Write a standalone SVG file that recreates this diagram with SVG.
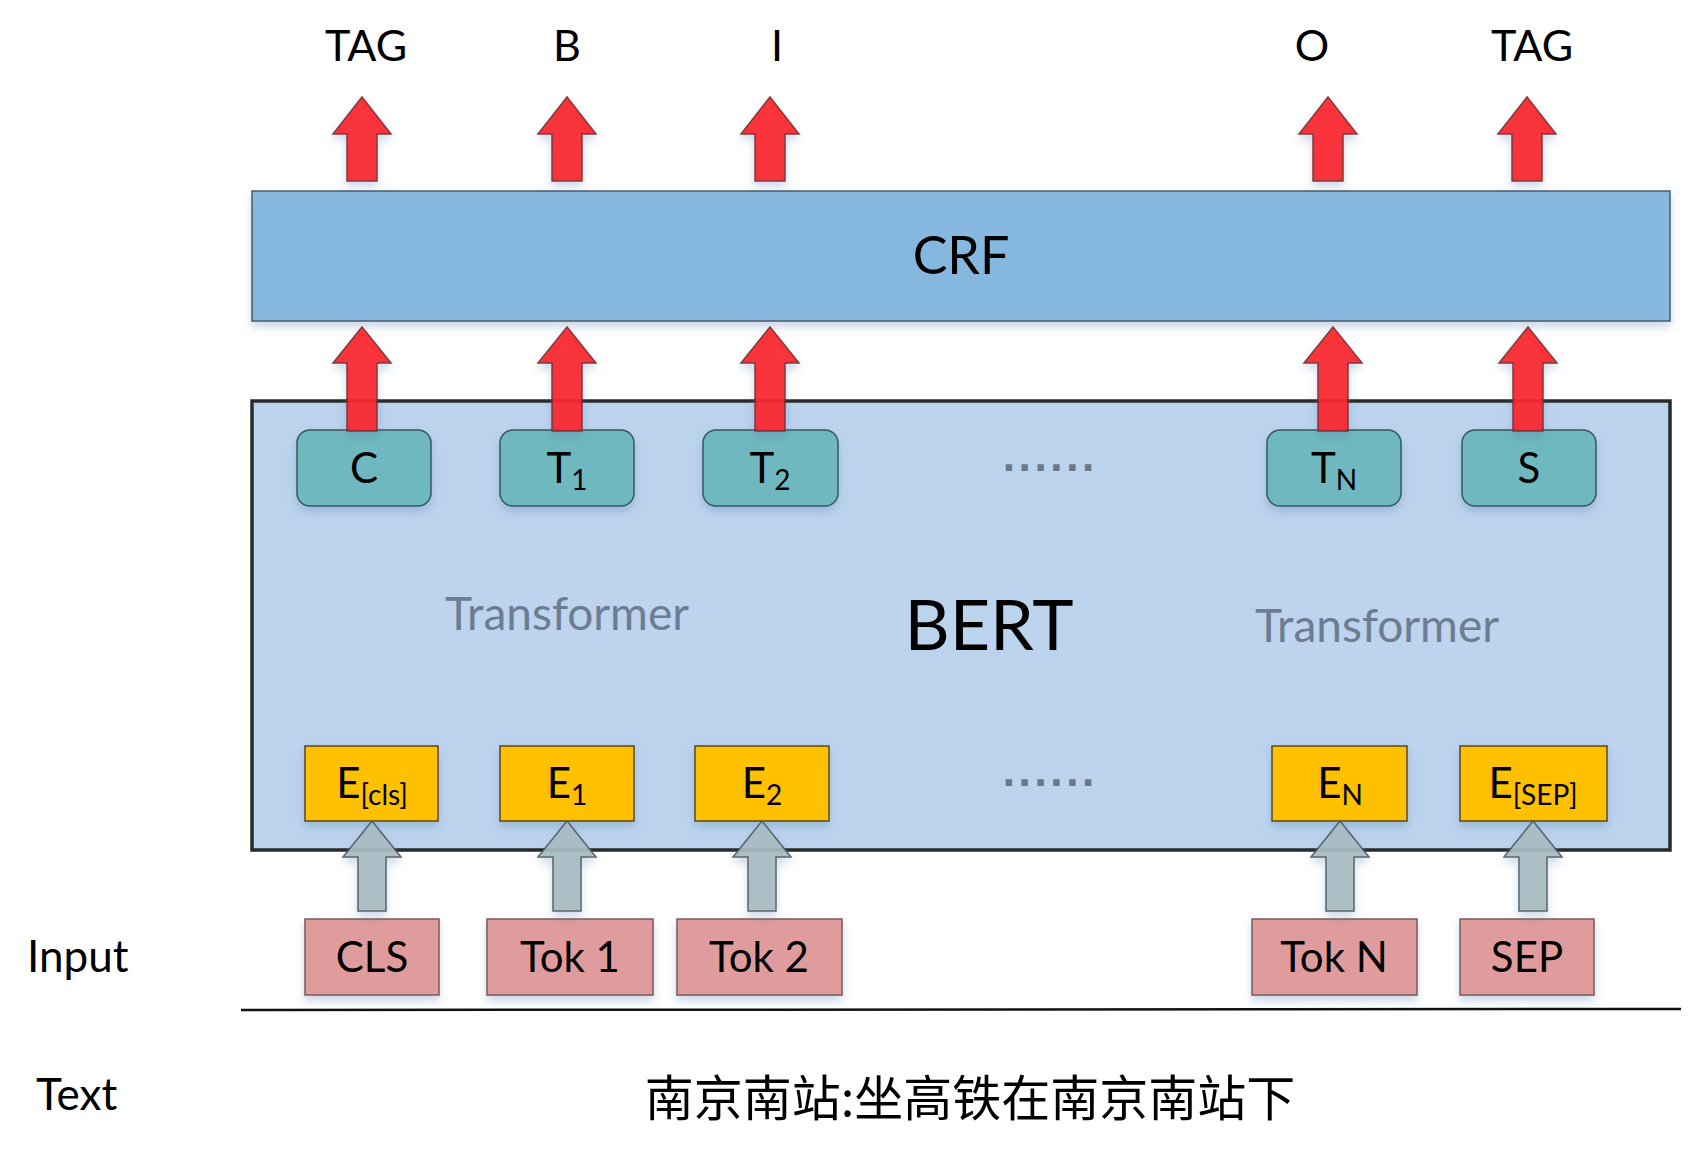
<svg xmlns="http://www.w3.org/2000/svg" width="1689" height="1155" viewBox="0 0 1689 1155">
<style>
text{font-family:Lato,"Open Sans","Noto Sans CJK SC",sans-serif;fill:#000;text-anchor:middle}
.lbl{font-size:43px}
.box{font-size:42px}
.sub{font-size:28px}
.teal{fill:#70b8bf;stroke:#34595c;stroke-width:1.5}
.yel{fill:#ffc000;stroke:#5a4812;stroke-width:1.5}
.pink{fill:#e09c9c;stroke:#7a5a5a;stroke-width:1.5}
.red{fill:#fb2226;stroke:#7a2a2a;stroke-width:1.5;opacity:0.92}
.gray{fill:#a9bcc3;stroke:#4d5c62;stroke-width:1.5;opacity:0.92}
.trf{font-size:46px;fill:#6b7d92}
.dots{font-family:"DejaVu Sans",sans-serif;font-size:36px;font-weight:bold;fill:#6a7888;text-anchor:start}
</style>
<defs>
<filter id="sh" x="-20%" y="-20%" width="140%" height="150%">
<feDropShadow dx="0" dy="5" stdDeviation="4" flood-color="#4f78ad" flood-opacity="0.3"/>
</filter>
</defs>
<rect width="1689" height="1155" fill="#fff"/>

<g id="tags">
<text class="lbl" x="366" y="61">TAG</text>
<text class="lbl" x="567" y="61">B</text>
<text class="lbl" x="777" y="61">I</text>
<text class="lbl" x="1312" y="61">O</text>
<text class="lbl" x="1532" y="61">TAG</text>
</g>

<g id="crf">
<rect x="252" y="191" width="1418" height="130" fill="#86b8df" stroke="#4b5a68" stroke-width="1.5" filter="url(#sh)"/>
<text x="961" y="274" font-size="52">CRF</text>
</g>

<g id="bert">
<rect x="252" y="401" width="1418" height="449" fill="#bcd3ee" stroke="#2a2a2a" stroke-width="3.5"/>
<rect x="305" y="570" width="525" height="103" fill="#c3d8f1" opacity="0.2"/>
<rect x="1144" y="585" width="460" height="105" fill="#c3d8f1" opacity="0.2"/>
<text x="989" y="650" font-size="70">BERT</text>
</g>
<g id="transformer-left"><text class="trf" x="567" y="630">Transformer</text></g>
<g id="transformer-right"><text class="trf" x="1377" y="642">Transformer</text></g>
<g id="dots-top"><text class="dots" x="1002" y="471" textLength="93" lengthAdjust="spacing">......</text></g>
<g id="dots-bottom"><text class="dots" x="1002" y="786" textLength="93" lengthAdjust="spacing">......</text></g>

<g id="out-C"><rect class="teal" x="297" y="430" width="134" height="76" rx="13" filter="url(#sh)"/><text class="box" x="364" y="483">C</text></g>
<g id="out-T1"><rect class="teal" x="500" y="430" width="134" height="76" rx="13" filter="url(#sh)"/><text class="box" x="567" y="483">T<tspan class="sub" dy="7">1</tspan></text></g>
<g id="out-T2"><rect class="teal" x="703" y="430" width="135" height="76" rx="13" filter="url(#sh)"/><text class="box" x="770" y="483">T<tspan class="sub" dy="7">2</tspan></text></g>
<g id="out-TN"><rect class="teal" x="1267" y="430" width="134" height="76" rx="13" filter="url(#sh)"/><text class="box" x="1334" y="483">T<tspan class="sub" dy="7">N</tspan></text></g>
<g id="out-S"><rect class="teal" x="1462" y="430" width="134" height="76" rx="13" filter="url(#sh)"/><text class="box" x="1529" y="483">S</text></g>

<g id="emb-cls"><rect class="yel" x="305" y="746" width="133" height="75" filter="url(#sh)"/><text class="box" x="372" y="798">E<tspan class="sub" dy="7">[cls]</tspan></text></g>
<g id="emb-1"><rect class="yel" x="500" y="746" width="134" height="75" filter="url(#sh)"/><text class="box" x="567" y="798">E<tspan class="sub" dy="7">1</tspan></text></g>
<g id="emb-2"><rect class="yel" x="695" y="746" width="134" height="75" filter="url(#sh)"/><text class="box" x="762" y="798">E<tspan class="sub" dy="7">2</tspan></text></g>
<g id="emb-N"><rect class="yel" x="1272" y="746" width="135" height="75" filter="url(#sh)"/><text class="box" x="1340" y="798">E<tspan class="sub" dy="7">N</tspan></text></g>
<g id="emb-sep"><rect class="yel" x="1460" y="746" width="147" height="75" filter="url(#sh)"/><text class="box" x="1533" y="798">E<tspan class="sub" dy="7">[SEP]</tspan></text></g>

<g id="in-CLS"><rect class="pink" x="305" y="919" width="134" height="76" filter="url(#sh)"/><text class="box" x="372" y="972">CLS</text></g>
<g id="in-Tok1"><rect class="pink" x="487" y="919" width="166" height="76" filter="url(#sh)"/><text class="box" x="570" y="972">Tok 1</text></g>
<g id="in-Tok2"><rect class="pink" x="677" y="919" width="165" height="76" filter="url(#sh)"/><text class="box" x="759" y="972">Tok 2</text></g>
<g id="in-TokN"><rect class="pink" x="1252" y="919" width="165" height="76" filter="url(#sh)"/><text class="box" x="1334" y="972">Tok N</text></g>
<g id="in-SEP"><rect class="pink" x="1460" y="919" width="134" height="76" filter="url(#sh)"/><text class="box" x="1527" y="972">SEP</text></g>

<g id="row-labels">
<text x="27" y="972" font-size="44" style="text-anchor:start">Input</text>
<text x="36" y="1110" font-size="44" style="text-anchor:start">Text</text>
</g>
<g id="separator"><line x1="241" y1="1010" x2="1681" y2="1009" stroke="#111" stroke-width="2.5"/></g>
<g id="sentence"><text x="970" y="1116" font-size="49" style="font-family:'Noto Sans CJK SC',sans-serif">南京南站:坐高铁在南京南站下</text></g>

<g id="connectors" filter="url(#sh)">
<path class="red" d="M362,97 L391,134 L377,134 L377,181 L347,181 L347,134 L333,134 Z"/>
<path class="red" d="M567,97 L596,134 L582,134 L582,181 L552,181 L552,134 L538,134 Z"/>
<path class="red" d="M770,97 L799,134 L785,134 L785,181 L755,181 L755,134 L741,134 Z"/>
<path class="red" d="M1328,97 L1357,134 L1343,134 L1343,181 L1313,181 L1313,134 L1299,134 Z"/>
<path class="red" d="M1527,97 L1556,134 L1542,134 L1542,181 L1512,181 L1512,134 L1498,134 Z"/>
<path class="red" d="M362,327 L391,363 L377,363 L377,431 L347,431 L347,363 L333,363 Z"/>
<path class="red" d="M567,327 L596,363 L582,363 L582,431 L552,431 L552,363 L538,363 Z"/>
<path class="red" d="M770,327 L799,363 L785,363 L785,431 L755,431 L755,363 L741,363 Z"/>
<path class="red" d="M1333,327 L1362,363 L1348,363 L1348,431 L1318,431 L1318,363 L1304,363 Z"/>
<path class="red" d="M1528,327 L1557,363 L1543,363 L1543,431 L1513,431 L1513,363 L1499,363 Z"/>
<path class="gray" d="M372,821 L401,857 L386,857 L386,911 L358,911 L358,857 L343,857 Z"/>
<path class="gray" d="M567,821 L596,857 L581,857 L581,911 L553,911 L553,857 L538,857 Z"/>
<path class="gray" d="M762,821 L791,857 L776,857 L776,911 L748,911 L748,857 L733,857 Z"/>
<path class="gray" d="M1340,821 L1369,857 L1354,857 L1354,911 L1326,911 L1326,857 L1311,857 Z"/>
<path class="gray" d="M1533,821 L1562,857 L1547,857 L1547,911 L1519,911 L1519,857 L1504,857 Z"/>
</g>
</svg>
